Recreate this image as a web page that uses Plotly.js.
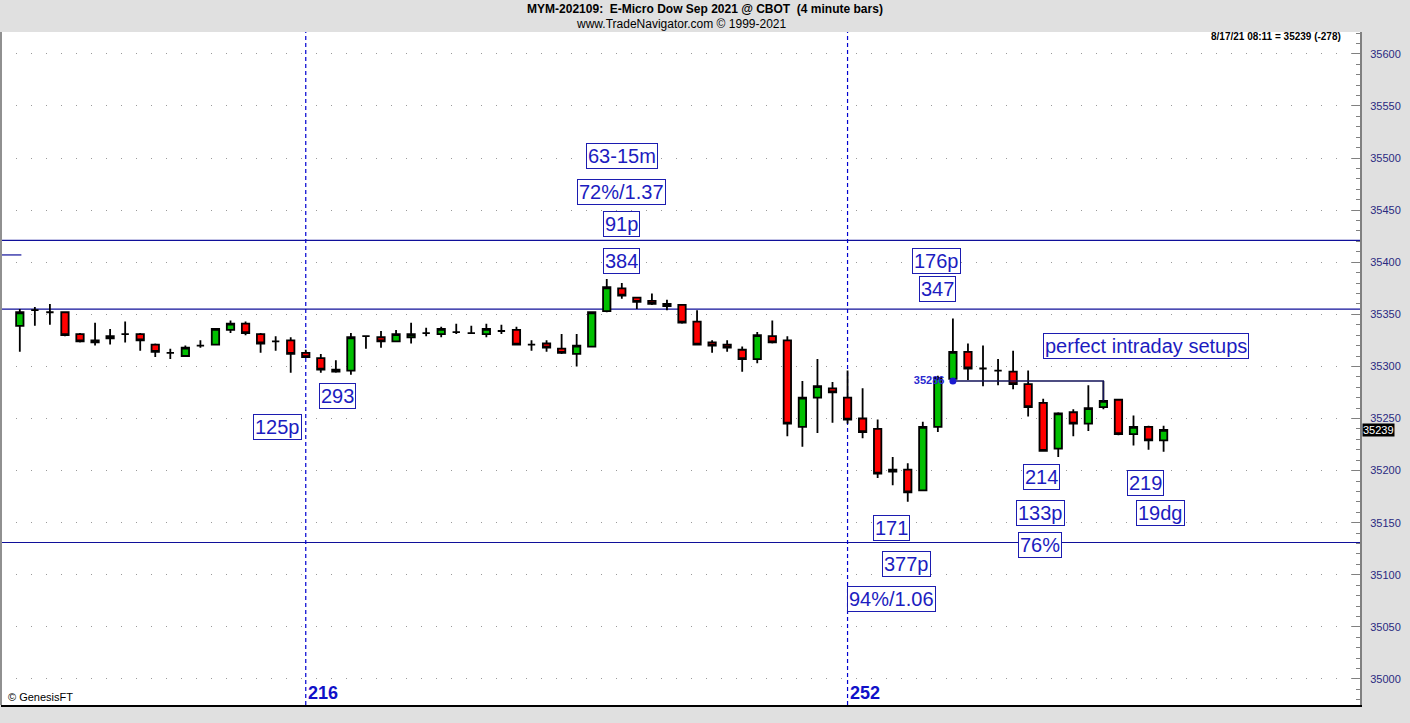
<!DOCTYPE html>
<html><head><meta charset="utf-8">
<script src="https://cdn.plot.ly/plotly-3.0.1.min.js"></script>
<style>html,body{margin:0;padding:0;background:#e0e0e0;overflow:hidden}#chart{width:1410px;height:723px}</style>
</head><body><div id="chart"></div>
<script>
// ---- data ----
const bars = [197,198,199,200,201,202,203,204,205,206,207,208,209,210,211,212,213,214,215,216,
  217,218,219,220,221,222,223,224,225,226,227,228,229,230,231,232,233,234,235,236,
  237,238,239,240,241,242,243,244,245,246,247,248,249,250,251,252,253,254,255,256,
  257,258,259,260,261,262,263,264,265,266,267,268,269,270,271,272,273];
const opens = [35339,35354,35352,35352,35331,35323,35327,35331,35331,35321,35313,35310,35320,35321,35335,35341,35331,35324,35325,35313,
  35308,35297,35296,35329,35328,35324,35328,35332,35331,35333,35332,35331,35334,35335,35321,35322,35317,35312,35319,35353,
  35375,35366,35363,35360,35359,35343,35323,35321,35316,35307,35329,35325,35242,35270,35279,35270,35250,35240,35199,35201,
  35181,35242,35288,35314,35298,35296,35295,35283,35265,35221,35256,35245,35261,35268,35235,35242,35229];
const highs = [35355,35357,35360,35352,35332,35342,35336,35343,35332,35322,35317,35320,35325,35336,35344,35343,35332,35329,35328,35316,
  35312,35306,35332,35330,35334,35335,35342,35337,35338,35341,35339,35341,35340,35338,35325,35325,35331,35331,35353,35384,
  35380,35366,35370,35364,35359,35354,35325,35325,35319,35333,35344,35329,35286,35307,35285,35296,35279,35249,35213,35207,
  35247,35291,35346,35322,35320,35307,35315,35296,35269,35256,35259,35282,35286,35268,35253,35243,35243];
const lows = [35314,35339,35340,35329,35323,35320,35321,35323,35315,35309,35307,35309,35318,35320,35332,35330,35313,35315,35294,35308,
  35294,35294,35292,35317,35318,35324,35322,35329,35328,35331,35331,35328,35331,35320,35315,35314,35312,35300,35319,35352,
  35365,35355,35359,35354,35341,35321,35313,35314,35295,35303,35322,35233,35223,35236,35246,35245,35231,35193,35186,35170,
  35181,35237,35287,35287,35281,35282,35278,35252,35218,35213,35233,35238,35259,35234,35224,35220,35218];
const closes = [35352,35354,35352,35330,35324,35325,35329,35331,35325,35314,35313,35318,35320,35336,35341,35332,35322,35324,35312,35309,
  35297,35295,35328,35329,35324,35331,35331,35332,35336,35333,35332,35336,35334,35321,35321,35318,35313,35320,35352,35376,
  35368,35362,35360,35358,35342,35321,35320,35318,35307,35330,35323,35245,35270,35281,35275,35249,35237,35197,35201,35179,
  35242,35289,35314,35298,35298,35296,35283,35261,35219,35255,35245,35260,35267,35235,35242,35229,35239];

// horizontal reference levels, vertical marker bars
const hLevels = [35421, 35355, 35131];
const leftStubLevel = 35407;
const vBars = [216, 252];
const vBarLabels = ['216', '252'];

// marked level line
const markLevel = 35286;
const markFromBar = 259;
const markToBar = 269;
const markDropTo = 35267;

// boxed notes
const noteTexts = ['63-15m','72%/1.37','91p','384','176p','347','perfect intraday setups','293','125p',
  '214','219','133p','19dg','171','76%','377p','94%/1.06'];
const noteBars = [237.0,237.0,237.0,237.0,257.9,258.0,271.8,218.1,214.1,
  264.9,271.8,264.8,272.8,254.9,264.8,255.9,254.9];
const notePrices = [35502,35467,35437,35401,35401,35374,35320,35272,35242,
  35194,35188,35159,35159,35145,35129,35110,35077];

const lastPrice = 35239;
const headerRight = '8/17/21 08:11 = 35239 (-278)';

// ---- build traces ----
function subset(pred){
  const o={x:[],open:[],high:[],low:[],close:[]};
  for(let i=0;i<bars.length;i++){ if(pred(opens[i],closes[i])){o.x.push(bars[i]);o.open.push(opens[i]);o.high.push(highs[i]);o.low.push(lows[i]);o.close.push(closes[i]);} }
  return o;
}
const LW = 1.8;
function candle(d, fill){
  return Object.assign({type:'candlestick', hoverinfo:'skip', showlegend:false, whiskerwidth:0,
    increasing:{line:{color:'#000',width:LW},fillcolor:fill},
    decreasing:{line:{color:'#000',width:LW},fillcolor:fill}}, d);
}
const traces = [
  candle(subset((o,c)=>c>o), '#00c000'),
  candle(subset((o,c)=>c<o), '#ff0000'),
  candle(subset((o,c)=>c===o), '#000000'),
  {type:'scatter', mode:'lines', x:[markFromBar, markToBar, markToBar], y:[markLevel, markLevel, markDropTo],
   line:{color:'#14145a', width:1.3}, hoverinfo:'skip', showlegend:false},
  {type:'scatter', mode:'markers+text', x:[markFromBar], y:[markLevel], marker:{color:'#1a1ad0', size:7},
   text:[String(markLevel)+' '], textposition:'middle left', textfont:{family:'Liberation Sans, Arial, sans-serif', size:11, color:'#2a2ad0', weight:'bold'},
   hoverinfo:'skip', showlegend:false}
];

const FF = 'Liberation Sans, Arial, sans-serif';
const NARROW = 'Liberation Sans Narrow, Arial Narrow, Liberation Sans, Arial, sans-serif';
const BLUE = '#1c1cc0';

const shapes = [];
hLevels.forEach(v=>shapes.push({type:'line', xref:'paper', x0:0, x1:1, yref:'y', y0:v, y1:v, line:{color:'#10109a', width:1.2}, layer:'below'}));
shapes.push({type:'line', xref:'paper', x0:0, x1:0.015, yref:'y', y0:leftStubLevel, y1:leftStubLevel, line:{color:'#10109a', width:1.2}});
vBars.forEach(b=>shapes.push({type:'line', xref:'x', x0:b, x1:b, yref:'paper', y0:0, y1:1, line:{color:'#0000d0', width:1.2, dash:'4px,3px'}, layer:'below'}));
shapes.push({type:'line', xref:'paper', x0:0, x1:0, yref:'paper', y0:0, y1:1, line:{color:'#909090', width:2}});

const annotations = [];
noteTexts.forEach((t,i)=>annotations.push({x:noteBars[i], y:notePrices[i], xref:'x', yref:'y', text:t, showarrow:false,
  font:{family:FF, size:20, color:BLUE}, bgcolor:'#ffffff', bordercolor:'#1c1cb0', borderwidth:1, borderpad:1}));
vBars.forEach((b,i)=>annotations.push({x:b, y:0.018, xref:'x', yref:'paper', text:'<b>'+vBarLabels[i]+'</b>', showarrow:false,
  xanchor:'left', yanchor:'middle', font:{family:FF, size:18, color:'#1010c8'}}));
annotations.push({x:0.5, y:1.0119, xref:'paper', yref:'paper', text:'www.TradeNavigator.com © 1999-2021', showarrow:false,
  xanchor:'center', yanchor:'middle', font:{family:NARROW, size:12, color:'#000'}});
annotations.push({x:0.9875, y:0.9926, xref:'paper', yref:'paper', text:'<b>'+headerRight+'</b>', showarrow:false,
  xanchor:'right', yanchor:'middle', font:{family:FF, size:10, color:'#000'}});
annotations.push({x:0.004, y:0.012, xref:'paper', yref:'paper', text:'© GenesisFT', showarrow:false,
  xanchor:'left', yanchor:'middle', font:{family:NARROW, size:11, color:'#000'}});
annotations.push({x:1, y:lastPrice, xref:'paper', yref:'y', text:String(lastPrice), showarrow:false, xshift:2,
  xanchor:'left', yanchor:'middle', bgcolor:'#000', font:{family:FF, size:11, color:'#fff'}, borderpad:0});

const layout = {
  width:1410, height:723,
  margin:{l:1, r:50, t:32, b:18, pad:0},
  paper_bgcolor:'#e0e0e0', plot_bgcolor:'#ffffff',
  title:{text:'<b>MYM-202109:  E-Micro Dow Sep 2021 @ CBOT  (4 minute bars)</b>', x:0.5, xanchor:'center', xref:'container',
    y:1-9/723, yref:'container', yanchor:'middle', font:{family:NARROW, size:12, color:'#000'}},
  xaxis:{range:[195.75, 286.05], showgrid:false, zeroline:false, showticklabels:false, ticks:'',
    showline:true, linecolor:'#000', linewidth:2, rangeslider:{visible:false}, fixedrange:true},
  yaxis:{side:'right', range:[34975, 35621], tick0:35000, dtick:50, tickformat:'d', ticks:'inside', ticklen:8, tickcolor:'#808080', tickwidth:1,
    showline:true, linecolor:'#808080', linewidth:2, zeroline:false,
    showgrid:true, gridcolor:'#9a9a9a', gridwidth:1, griddash:'1px,14px',
    tickfont:{family:FF, size:11, color:'#2a2a80'}, ticklabelstandoff:6,
    minor:{dtick:10, ticks:'inside', ticklen:4, tickcolor:'#808080', showgrid:false}, fixedrange:true},
  shapes:shapes, annotations:annotations, showlegend:false, hovermode:false, boxgap:0.3
};
Plotly.newPlot('chart', traces, layout, {displayModeBar:false, staticPlot:true});
</script></body></html>
